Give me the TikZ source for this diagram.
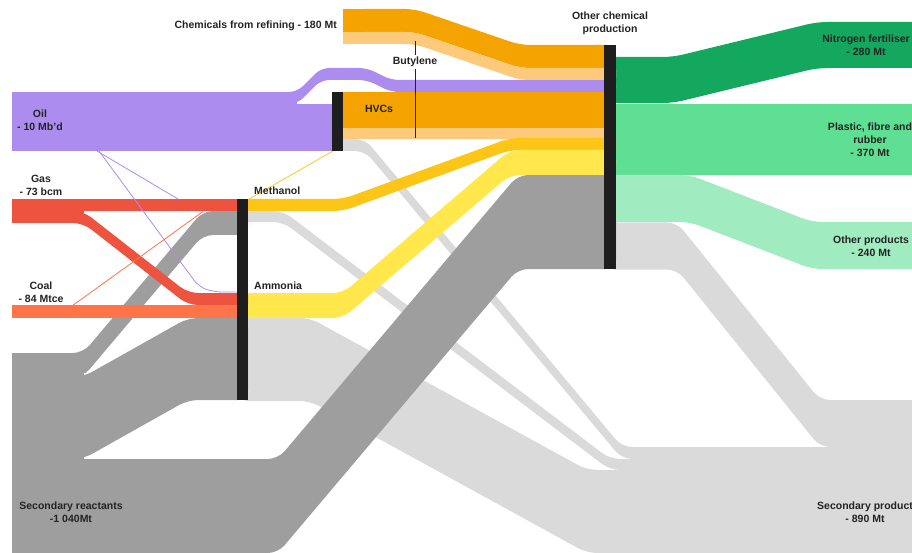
\documentclass[tikz,border=0pt]{standalone}
\usepackage{fontspec}
\setmainfont{Liberation Sans}
\definecolor{purp}{HTML}{AD8CF0}
\definecolor{hvcor}{HTML}{F5A300}
\definecolor{lor}{HTML}{FDC97A}
\definecolor{gold}{HTML}{FDC617}
\definecolor{yel}{HTML}{FFE74C}
\definecolor{gasred}{HTML}{EE5340}
\definecolor{coalor}{HTML}{FF7448}
\definecolor{dgray}{HTML}{9E9E9E}
\definecolor{lgray}{HTML}{DADADA}
\definecolor{gdark}{HTML}{14A85E}
\definecolor{gmid}{HTML}{5EDF93}
\definecolor{glight}{HTML}{A0EBC0}
\definecolor{barc}{HTML}{1E1E1E}
\definecolor{txt}{HTML}{232323}
\newcommand{\flowband}[8]{\fill[#1, rounded corners=10pt] (#2,#6) -- (#3,#6) -- (#4,#7) -- (#5,#7) -- (#5,#7+#8) -- (#4,#7+#8) -- (#3,#6+#8) -- (#2,#6+#8) -- cycle;}
\tikzset{
  lab/.style={font=\fontsize{10.5}{13}\selectfont\bfseries, text=txt, align=center, inner sep=0pt},
  barnode/.style={fill=barc, draw=none, inner sep=0pt, minimum width=#1},
  thinline/.style={line width=0.8pt}
}
\begin{document}
\begin{tikzpicture}[x=1pt, y=-1pt]
\useasboundingbox (0,0) rectangle (912,553);
\clip (0,0) rectangle (912,553);
% light gray secondary products
\flowband{lgray}{332}{365}{622}{930}{139}{447}{12}
\flowband{lgray}{237}{283}{610}{930}{211}{459}{11}
\flowband{lgray}{237}{310}{587}{930}{318}{470}{83}
\flowband{lgray}{604}{677}{820}{930}{222.5}{400}{47}
% secondary reactants
\fill[dgray] (12,353) rectangle (84,553);
\flowband{dgray}{40}{83}{203}{248}{353}{211}{24}
\flowband{dgray}{40}{83}{188}{248}{377}{318}{82}
\flowband{dgray}{40}{278}{518}{616}{459}{175}{94}
% outputs of other chemical production
\flowband{gdark}{604}{673}{817}{930}{57}{22}{46}
\fill[gmid] (604,104) rectangle (930,175);
\flowband{glight}{604}{690}{812}{930}{175}{222}{47}
% oil
\fill[purp] (12,92) rectangle (297,151);
\fill[purp] (296,104) rectangle (333,151);
\fill[purp, rounded corners=8pt] (280,92) -- (297,92) -- (321,68) -- (367,68) -- (391,80) -- (616,80) -- (616,92) -- (391,92) -- (367,80) -- (321,80) -- (297,104) -- (280,104) -- cycle;
% chemicals from refining
\fill[hvcor] (343,9) rectangle (370,32);
\fill[lor] (343,32) rectangle (370,44);
\flowband{hvcor}{355}{415}{520}{616}{9}{45}{23}
\flowband{lor}{355}{415}{520}{616}{32}{68}{12}
% HVCs
\fill[hvcor] (337,92) rectangle (610,128);
\fill[lor] (337,128) rectangle (610,139);
% methanol and ammonia products
\flowband{gold}{237}{343}{510}{616}{199}{138}{12}
\flowband{yel}{237}{343}{510}{616}{293}{150}{25}
% gas
\fill[gasred] (12,199) rectangle (242,211);
\fill[gasred] (12,211) rectangle (84,223);
\flowband{gasred}{60}{83}{188}{248}{211}{293}{12}
% coal
\fill[coalor] (12,305) rectangle (242,317.5);
% thin flows
\draw[purp, thinline] (97,151) -- (178,199);
\draw[purp, thinline, rounded corners=8pt] (99,151) -- (199,287) -- (214,292) -- (240,292);
\draw[coalor, thinline] (72,306) -- (203,211.5);
\draw[gold, thinline] (249,199) -- (333,151);
% process bars
\node[barnode=11, minimum height=59] (hvc) at (337.5,121.5) {};
\node[barnode=11, minimum height=201] (mam) at (242.5,299.5) {};
\node[barnode=12, minimum height=224] (ocp) at (610,157) {};
% butylene marker
\draw[txt, line width=0.9pt] (415,41) -- (415,55);
\draw[txt, line width=0.9pt] (415,69) -- (415,138);
% labels
\node[lab, anchor=east] (refl) at (337,26) {Chemicals from refining - 180 Mt};
\node[lab] (butl) at (415,62) {Butylene};
\node[lab] (hvcl) at (379,109) {HVCs};
\node[lab] (oill) at (40,120.5) {Oil\\- 10 Mb’d};
\node[lab] (gasl) at (41,185.5) {Gas\\- 73 bcm};
\node[lab] (coall) at (41,292) {Coal\\- 84 Mtce};
\node[lab, anchor=west] (methl) at (254,191) {Methanol};
\node[lab, anchor=west] (ammol) at (254,286) {Ammonia};
\node[lab] (ocpl) at (610,23) {Other chemical\\production};
\node[lab] (nfl) at (866,45) {Nitrogen fertiliser\\- 280 Mt};
\node[lab] (pfl) at (870,139.5) {Plastic, fibre and\\rubber\\- 370 Mt};
\node[lab] (opl) at (871,246.5) {Other products\\- 240 Mt};
\node[lab] (srl) at (71,512) {Secondary reactants\\-1 040Mt};
\node[lab] (spl) at (865,512) {Secondary product\\- 890 Mt};
\end{tikzpicture}
\end{document}
